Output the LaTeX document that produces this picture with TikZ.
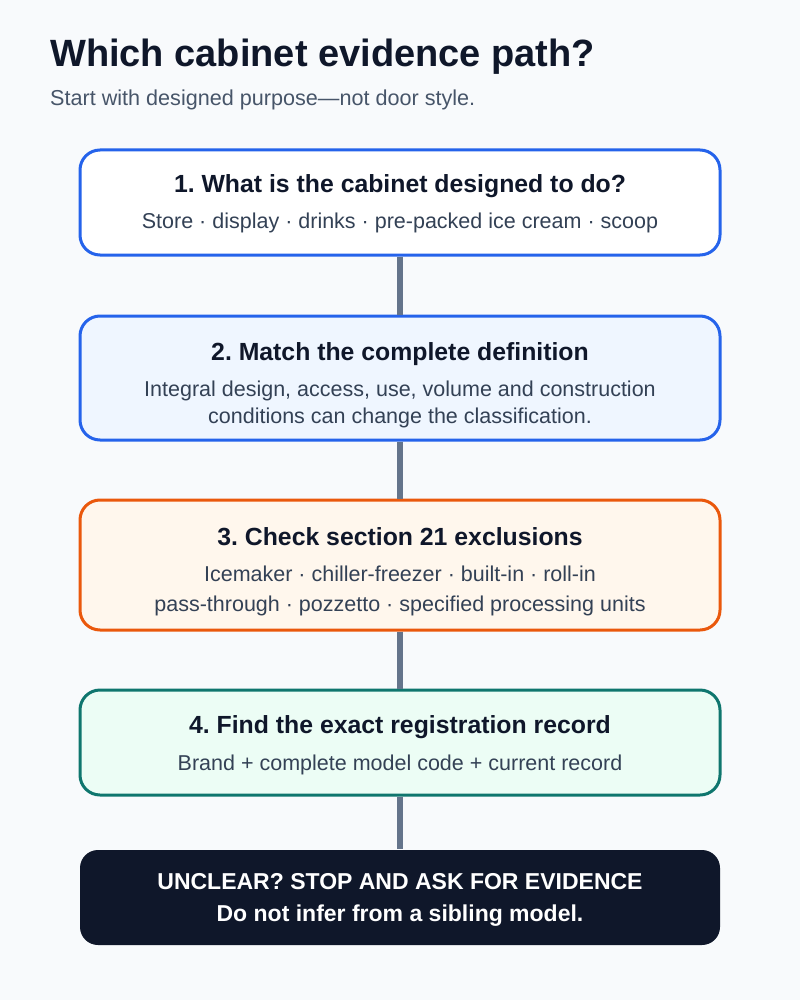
\documentclass[tikz,border=0pt]{standalone}
\usepackage{fontspec}
\setmainfont{Liberation Sans}
\frenchspacing
\usetikzlibrary{positioning}
\definecolor{pagebg}{HTML}{F8FAFC}
\definecolor{ink}{HTML}{0F172A}
\definecolor{slate}{HTML}{475569}
\definecolor{bodyink}{HTML}{334155}
\definecolor{linkgray}{HTML}{64748B}
\definecolor{blueedge}{HTML}{2563EB}
\definecolor{bluefill}{HTML}{EFF6FF}
\definecolor{orangeedge}{HTML}{EA580C}
\definecolor{orangefill}{HTML}{FFF7ED}
\definecolor{tealedge}{HTML}{0F766E}
\definecolor{tealfill}{HTML}{ECFDF5}
\tikzset{stepcard/.style={rectangle, rounded corners=20pt, line width=3pt, minimum width=640pt, inner sep=0pt},
steptitle/.style={text=ink, font=\fontsize{24.8}{28}\selectfont\bfseries, inner sep=0pt, anchor=base},
stepbody/.style={text=bodyink, font=\fontsize{21.5}{25}\selectfont, inner sep=0pt, anchor=base},
stoptext/.style={text=white, font=\fontsize{23}{26}\selectfont\bfseries, inner sep=0pt, anchor=base}}

\begin{document}
\begin{tikzpicture}[
        x=1pt, y=-1pt,
        link/.style={draw=linkgray, line width=6pt}
    ]
        % Page
        \fill[pagebg] (0, 0) rectangle (800, 1000);
        \useasboundingbox (0, 0) rectangle (800, 1000);
        % Heading
        \node[anchor=base west, inner sep=0pt, text=ink, font=\fontsize{38}{44}\selectfont\bfseries] (heading) at (50, 67) {Which cabinet evidence path?};
        \node[anchor=base west, inner sep=0pt, text=slate, font=\fontsize{21.6}{25}\selectfont] (subheading) at (50, 106) {Start with designed purpose---not door style.};
        % Cards
        \node[stepcard, draw=blueedge, fill=white, minimum height=105pt] (purpose) at (400, 202.5) {};
        \node[stepcard, draw=blueedge, fill=bluefill, minimum height=124pt] (definition) at (400, 378) {};
        \node[stepcard, draw=orangeedge, fill=orangefill, minimum height=130pt] (exclusions) at (400, 565) {};
        \node[stepcard, draw=tealedge, fill=tealfill, minimum height=105pt] (record) at (400, 742.5) {};
        \node[stepcard, draw=none, fill=ink, rounded corners=18pt, minimum height=95pt] (stop) at (400, 897.5) {};
        % Links
        \draw[link] (purpose.south) -- (definition.north);
        \draw[link] (definition.south) -- (exclusions.north);
        \draw[link] (exclusions.south) -- (record.north);
        \draw[link] (record.south) -- (stop.north);
        % Card texts
        \node[steptitle] (purpose title) at (400, 193) {1. What is the cabinet designed to do?};
        \node[stepbody] (purpose body) at (400, 229) {Store · display · drinks · pre-packed ice cream · scoop};
        \node[steptitle] (definition title) at (400, 360) {2. Match the complete definition};
        \node[stepbody] (definition body a) at (400, 396.5) {Integral design, access, use, volume and construction};
        \node[stepbody] (definition body b) at (400, 423.5) {conditions can change the classification.};
        \node[steptitle] (exclusions title) at (400, 545) {3. Check section 21 exclusions};
        \node[stepbody] (exclusions body a) at (400, 581.5) {Icemaker · chiller-freezer · built-in · roll-in};
        \node[stepbody] (exclusions body b) at (400, 611) {pass-through · pozzetto · specified processing units};
        \node[steptitle] (record title) at (400, 733) {4. Find the exact registration record};
        \node[stepbody] (record body) at (400, 770) {Brand + complete model code + current record};
        \node[stoptext] (stop title) at (400, 889) {UNCLEAR? STOP AND ASK FOR EVIDENCE};
        \node[stoptext] (stop body) at (400, 921.5) {Do not infer from a sibling model.};
    \end{tikzpicture}
\end{document}
